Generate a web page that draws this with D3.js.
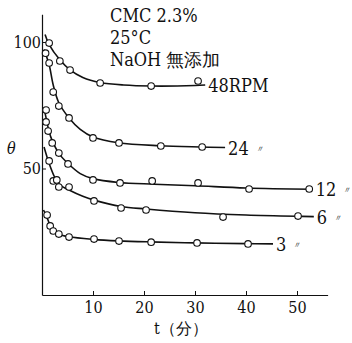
<!DOCTYPE html>
<html>
<head>
<meta charset="utf-8">
<script src="https://cdn.jsdelivr.net/npm/d3@7"></script>
<style>
  body { margin: 0; background: #fff; }
</style>
</head>
<body>
<div id="chart"></div>
<script>
// rpm labels and series (t in minutes, theta)
var rpmLabels = ["48RPM", "24", "12", "6", "3"];
var ditto = [false, true, true, true, true];

// measured points
var pts48 = [[1.4, 99.6], [3.5, 92.5], [5.5, 88.9], [11.4, 83.8], [21.4, 82.6], [30.6, 84.6]];
var pts24 = [[0.7, 95.6], [1.4, 91.7], [2.2, 80.2], [3.3, 74.7], [5.3, 70.0], [10.0, 62.1], [15.1, 60.1], [23.3, 58.9], [31.4, 58.5]];
var pts12 = [[0.8, 73.1], [0.8, 68.4], [1.2, 64.8], [2.0, 60.1], [3.3, 56.1], [5.1, 51.8], [10.0, 45.5], [15.3, 44.3], [21.6, 45.1], [30.6, 44.3], [40.6, 41.9], [52.4, 41.9]];
var pts6 = [[1.4, 53.0], [2.2, 45.1], [2.9, 45.5], [3.3, 42.7], [5.3, 42.7], [10.2, 37.2], [15.5, 34.4], [20.4, 33.6], [35.5, 30.8], [50.2, 31.2]];
var pts3 = [[1.0, 31.6], [1.6, 27.3], [2.2, 25.3], [3.3, 24.1], [5.3, 22.9], [10.2, 22.1], [15.1, 21.3], [21.4, 20.9], [30.4, 20.6], [40.4, 20.2]];

// fitted curves
var fit48 = [[0.6, 103], [1.4, 99], [3.5, 93], [5.5, 89], [8, 86], [11.4, 84], [16, 83], [21.4, 82.6], [30, 82.8], [32, 83]];
var fit24 = [[0.4, 97], [1.4, 91], [2.2, 83], [3.3, 76], [5.3, 70], [7.5, 65.5], [10, 62.5], [15, 60.2], [23, 59], [31, 58.5], [35.9, 58.3]];
var fit12 = [[0.4, 74], [0.8, 70], [1.4, 64.5], [2, 61], [3.3, 56], [5.1, 52], [7.5, 48], [10, 46], [15, 44.5], [22, 43.8], [30, 43.2], [40, 42.3], [53.1, 41.8]];
var fit6 = [[0.4, 58.5], [1.4, 52], [2.5, 46.5], [3.5, 43.5], [5.3, 41.5], [8, 39], [10.2, 37.5], [15.5, 35], [20.4, 34], [30, 32.5], [40, 31.6], [50, 31.1], [53.3, 31]];
var fit3 = [[0.3, 33.6], [1, 30.5], [1.6, 27.5], [2.2, 25.5], [3.3, 24], [5.3, 23], [10, 22], [15, 21.4], [21, 21], [30, 20.6], [40, 20.3], [45.3, 20.2]];

var xTicks = [10, 20, 30, 40, 50];
var yTicks = [50, 100];

var allPts = [pts48, pts24, pts12, pts6, pts3];
var allFits = [fit48, fit24, fit12, fit6, fit3];

var SERIF = "'DejaVu Serif Condensed', 'DejaVu Serif', 'Liberation Serif', serif";

var W = 352, H = 343;
var svg = d3.select("#chart").append("svg").attr("width", W).attr("height", H);

var x = d3.scaleLinear().domain([0, 56]).range([42, 327.6]);
var y = d3.scaleLinear().domain([0, 111]).range([295, 14.2]);

// axes
var xAxis = d3.axisBottom(x).tickValues(xTicks).tickSize(-4).tickSizeOuter(0).tickPadding(7);
var gx = svg.append("g").attr("transform", "translate(0," + y(0) + ")").call(xAxis);
gx.selectAll("text").style("font-size", "16px").style("font-family", SERIF).attr("fill", "#111");

var yAxis = d3.axisLeft(y).tickValues(yTicks).tickSize(-4).tickSizeOuter(0).tickPadding(1);
var gy = svg.append("g").attr("transform", "translate(" + x(0) + ",0)").call(yAxis);
gy.selectAll("text").style("font-size", "16px").style("font-family", SERIF).attr("fill", "#111");
svg.selectAll(".domain").attr("stroke", "#111").attr("stroke-width", 1.2);
svg.selectAll(".tick line").attr("stroke", "#111");

var line = d3.line()
  .x(function(d) { return x(d[0]); })
  .y(function(d) { return y(d[1]); })
  .curve(d3.curveCatmullRom.alpha(0.5));

allFits.forEach(function(f, i) {
  svg.append("path")
    .attr("d", line(f))
    .attr("fill", "none")
    .attr("stroke", "#111")
    .attr("stroke-width", 1.6);

  var last = f[f.length - 1];
  var lbl = svg.append("text")
    .attr("x", x(last[0]) + 3)
    .attr("y", y(last[1]) + 7)
    .style("font-family", SERIF)
    .style("font-size", "18px")
    .attr("fill", "#111")
    .text(rpmLabels[i]);
  if (ditto[i]) {
    var bb = lbl.node().getBBox();
    svg.append("text")
      .attr("x", bb.x + bb.width + 6)
      .attr("y", y(last[1]) + 4)
      .style("font-family", SERIF)
      .style("font-size", "9px")
      .style("font-style", "italic")
      .attr("fill", "#111")
      .text("〃");
  }
});

allPts.forEach(function(p) {
  svg.selectAll(null)
    .data(p)
    .enter()
    .append("circle")
    .attr("cx", function(d) { return x(d[0]); })
    .attr("cy", function(d) { return y(d[1]); })
    .attr("r", 3.3)
    .attr("fill", "#fff")
    .attr("stroke", "#111")
    .attr("stroke-width", 1.1);
});

// condition notes
var notes = ["CMC 2.3%", "25°C", "NaOH 無添加"];
notes.forEach(function(n, i) {
  svg.append("text")
    .attr("x", 110)
    .attr("y", 22 + i * 22)
    .style("font-family", SERIF)
    .style("font-size", "18px")
    .attr("fill", "#111")
    .text(n);
});

// axis titles
svg.append("text")
  .attr("x", 7).attr("y", 154)
  .style("font-size", "16px")
  .style("font-style", "italic")
  .style("font-family", SERIF)
  .attr("fill", "#111")
  .text("θ");

svg.append("text")
  .attr("x", 154).attr("y", 334)
  .style("font-size", "16px")
  .style("font-family", SERIF)
  .attr("fill", "#111")
  .text("t（分）");
</script>
</body>
</html>
